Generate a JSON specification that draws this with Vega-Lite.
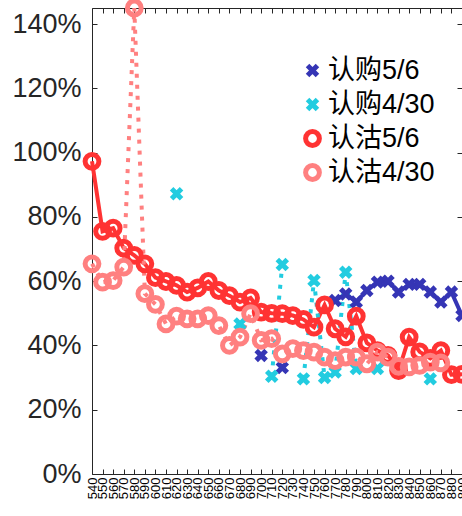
{
 "$schema": "https://vega.github.io/schema/vega-lite/v6.json",
 "width": 370,
 "height": 466,
 "autosize": {"type": "none"},
 "padding": {"left": 92, "top": 8, "right": 0, "bottom": 42},
 "background": "white",
 "config": {
  "view": {"stroke": null},
  "axis": {"grid": false, "domainColor": "#262626", "tickColor": "#262626", "domainWidth": 1, "tickWidth": 1, "title": null},
  "legend": {"title": null, "labelFontSize": 27, "labelFont": "Liberation Sans, Noto Sans CJK SC", "labelColor": "#000000", "symbolSize": 190, "symbolStrokeWidth": 5, "rowPadding": -1, "labelOffset": 2, "gridAlign": "all"}
 },
 "data": {"values": [
  {"series": "认购5/6", "strike": 700, "pct": 36.9},
  {"series": "认购5/6", "strike": 710, "pct": null},
  {"series": "认购5/6", "strike": 720, "pct": 33.1},
  {"series": "认购5/6", "strike": 730, "pct": null},
  {"series": "认购5/6", "strike": 770, "pct": 54},
  {"series": "认购5/6", "strike": 780, "pct": 56},
  {"series": "认购5/6", "strike": 790, "pct": 53.5},
  {"series": "认购5/6", "strike": 800, "pct": 57.1},
  {"series": "认购5/6", "strike": 810, "pct": 59.7},
  {"series": "认购5/6", "strike": 820, "pct": 60},
  {"series": "认购5/6", "strike": 830, "pct": 56.6},
  {"series": "认购5/6", "strike": 840, "pct": 59},
  {"series": "认购5/6", "strike": 850, "pct": 59},
  {"series": "认购5/6", "strike": 860, "pct": 56.6},
  {"series": "认购5/6", "strike": 870, "pct": 53.5},
  {"series": "认购5/6", "strike": 880, "pct": 56.6},
  {"series": "认购5/6", "strike": 890, "pct": 49.3},
  {"series": "认购4/30", "strike": 620, "pct": 87.2},
  {"series": "认购4/30", "strike": 630, "pct": null},
  {"series": "认购4/30", "strike": 680, "pct": 46.7},
  {"series": "认购4/30", "strike": 690, "pct": null},
  {"series": "认购4/30", "strike": 710, "pct": 30.4},
  {"series": "认购4/30", "strike": 720, "pct": 65.2},
  {"series": "认购4/30", "strike": 730, "pct": null},
  {"series": "认购4/30", "strike": 740, "pct": 29.6},
  {"series": "认购4/30", "strike": 750, "pct": 60.2},
  {"series": "认购4/30", "strike": 760, "pct": 30},
  {"series": "认购4/30", "strike": 770, "pct": 31.7},
  {"series": "认购4/30", "strike": 780, "pct": 62.8},
  {"series": "认购4/30", "strike": 790, "pct": 32.8},
  {"series": "认购4/30", "strike": 800, "pct": null},
  {"series": "认购4/30", "strike": 810, "pct": 32.8},
  {"series": "认购4/30", "strike": 820, "pct": null},
  {"series": "认购4/30", "strike": 860, "pct": 29.6},
  {"series": "认沽5/6", "strike": 540, "pct": 97.3},
  {"series": "认沽5/6", "strike": 550, "pct": 75.5},
  {"series": "认沽5/6", "strike": 560, "pct": 76.5},
  {"series": "认沽5/6", "strike": 570, "pct": 70.3},
  {"series": "认沽5/6", "strike": 580, "pct": 68},
  {"series": "认沽5/6", "strike": 590, "pct": 65.4},
  {"series": "认沽5/6", "strike": 600, "pct": 61.1},
  {"series": "认沽5/6", "strike": 610, "pct": 59.9},
  {"series": "认沽5/6", "strike": 620, "pct": 58.7},
  {"series": "认沽5/6", "strike": 630, "pct": 56.6},
  {"series": "认沽5/6", "strike": 640, "pct": 57.9},
  {"series": "认沽5/6", "strike": 650, "pct": 59.9},
  {"series": "认沽5/6", "strike": 660, "pct": 57.1},
  {"series": "认沽5/6", "strike": 670, "pct": 55.5},
  {"series": "认沽5/6", "strike": 680, "pct": 53.5},
  {"series": "认沽5/6", "strike": 690, "pct": 54.8},
  {"series": "认沽5/6", "strike": 700, "pct": 50.4},
  {"series": "认沽5/6", "strike": 710, "pct": 50.0},
  {"series": "认沽5/6", "strike": 720, "pct": 49.9},
  {"series": "认沽5/6", "strike": 730, "pct": 49.3},
  {"series": "认沽5/6", "strike": 740, "pct": 48.1},
  {"series": "认沽5/6", "strike": 750, "pct": 45.7},
  {"series": "认沽5/6", "strike": 760, "pct": 52.6},
  {"series": "认沽5/6", "strike": 770, "pct": 45.2},
  {"series": "认沽5/6", "strike": 780, "pct": 42.7},
  {"series": "认沽5/6", "strike": 790, "pct": 49.1},
  {"series": "认沽5/6", "strike": 800, "pct": 40.8},
  {"series": "认沽5/6", "strike": 810, "pct": 38.4},
  {"series": "认沽5/6", "strike": 820, "pct": 36.9},
  {"series": "认沽5/6", "strike": 830, "pct": 32.2},
  {"series": "认沽5/6", "strike": 840, "pct": 42.6},
  {"series": "认沽5/6", "strike": 850, "pct": 38},
  {"series": "认沽5/6", "strike": 860, "pct": 36},
  {"series": "认沽5/6", "strike": 870, "pct": 38.4},
  {"series": "认沽5/6", "strike": 880, "pct": 30.9},
  {"series": "认沽5/6", "strike": 890, "pct": 31},
  {"series": "认沽4/30", "strike": 540, "pct": 65.4},
  {"series": "认沽4/30", "strike": 550, "pct": 59.7},
  {"series": "认沽4/30", "strike": 560, "pct": 60.2},
  {"series": "认沽4/30", "strike": 570, "pct": 64.4},
  {"series": "认沽4/30", "strike": 580, "pct": 145},
  {"series": "认沽4/30", "strike": 590, "pct": 56.1},
  {"series": "认沽4/30", "strike": 600, "pct": 52.8},
  {"series": "认沽4/30", "strike": 610, "pct": 46.7},
  {"series": "认沽4/30", "strike": 620, "pct": 49.1},
  {"series": "认沽4/30", "strike": 630, "pct": 48.3},
  {"series": "认沽4/30", "strike": 640, "pct": 48.3},
  {"series": "认沽4/30", "strike": 650, "pct": 49.3},
  {"series": "认沽4/30", "strike": 660, "pct": 46.2},
  {"series": "认沽4/30", "strike": 670, "pct": 40},
  {"series": "认沽4/30", "strike": 680, "pct": 42.6},
  {"series": "认沽4/30", "strike": 690, "pct": 49.9},
  {"series": "认沽4/30", "strike": 700, "pct": 41.6},
  {"series": "认沽4/30", "strike": 710, "pct": 42.1},
  {"series": "认沽4/30", "strike": 720, "pct": 37.4},
  {"series": "认沽4/30", "strike": 730, "pct": 39},
  {"series": "认沽4/30", "strike": 740, "pct": 38.4},
  {"series": "认沽4/30", "strike": 750, "pct": 37.9},
  {"series": "认沽4/30", "strike": 760, "pct": 36.4},
  {"series": "认沽4/30", "strike": 770, "pct": 35.3},
  {"series": "认沽4/30", "strike": 780, "pct": 36.4},
  {"series": "认沽4/30", "strike": 790, "pct": 36.4},
  {"series": "认沽4/30", "strike": 800, "pct": 34.3},
  {"series": "认沽4/30", "strike": 810, "pct": 37.9},
  {"series": "认沽4/30", "strike": 820, "pct": 36.4},
  {"series": "认沽4/30", "strike": 830, "pct": 33.5},
  {"series": "认沽4/30", "strike": 840, "pct": 33.3},
  {"series": "认沽4/30", "strike": 850, "pct": 33.8},
  {"series": "认沽4/30", "strike": 860, "pct": 34.8},
  {"series": "认沽4/30", "strike": 870, "pct": 34.6}
 ]},
 "layer": [
  {
   "transform": [{"filter": "datum.series === '认购5/6' || datum.series === '认沽5/6'"}],
   "mark": {"type": "line", "strokeWidth": 4, "invalid": "break-paths-filter-domains"},
   "encoding": {
    "x": {"field": "strike", "type": "quantitative", "scale": {"domain": [540, 890], "nice": false, "zero": false},
     "axis": {"orient": "bottom", "values": [540,550,560,570,580,590,600,610,620,630,640,650,660,670,680,690,700,710,720,730,740,750,760,770,780,790,800,810,820,830,840,850,860,870,880,890], "labelAngle": -90, "labelFontSize": 13, "labelFont": "Liberation Sans", "labelColor": "#000000", "tickSize": -5, "labelPadding": 8, "labelOverlap": false, "labelFlush": false}},
    "y": {"field": "pct", "type": "quantitative", "scale": {"domain": [0, 145], "nice": false},
     "axis": {"orient": "left", "values": [0,20,40,60,80,100,120,140], "labelExpr": "datum.value + '%'", "labelFontSize": 27, "labelFont": "Liberation Sans", "labelColor": "#262626", "tickSize": -5, "labelPadding": 16}},
    "color": {"field": "series", "type": "nominal", "scale": {"domain": ["认购5/6", "认购4/30", "认沽5/6", "认沽4/30"], "range": ["#3535b5", "#22cce0", "#ff3333", "#ff8080"]},
     "legend": {"orient": "none", "legendX": 207, "legendY": 49}}
   }
  },
  {
   "transform": [{"filter": "datum.series === '认购4/30' || datum.series === '认沽4/30'"}],
   "mark": {"type": "line", "strokeWidth": 4, "strokeDash": [4, 7], "invalid": "break-paths-filter-domains"},
   "encoding": {
    "x": {"field": "strike", "type": "quantitative", "axis": null},
    "y": {"field": "pct", "type": "quantitative", "axis": null},
    "color": {"field": "series", "type": "nominal"}
   }
  },
  {
   "mark": {"type": "point", "filled": false, "strokeWidth": 5, "opacity": 1, "size": 190},
   "encoding": {
    "x": {"field": "strike", "type": "quantitative",
     "axis": {"orient": "top", "values": [540,550,560,570,580,590,600,610,620,630,640,650,660,670,680,690,700,710,720,730,740,750,760,770,780,790,800,810,820,830,840,850,860,870,880,890], "labels": false, "tickSize": -5}},
    "y": {"field": "pct", "type": "quantitative",
     "axis": {"orient": "right", "values": [0,20,40,60,80,100,120,140], "labels": false, "tickSize": -5}},
    "color": {"field": "series", "type": "nominal"},
    "shape": {"field": "series", "type": "nominal", "scale": {"domain": ["认购5/6", "认购4/30", "认沽5/6", "认沽4/30"], "range": ["M-0.72,-0.72L0.72,0.72M-0.72,0.72L0.72,-0.72", "M-0.72,-0.72L0.72,0.72M-0.72,0.72L0.72,-0.72", "circle", "circle"]},
     "legend": {"orient": "none", "legendX": 207, "legendY": 49}}
   }
  }
 ]
}
